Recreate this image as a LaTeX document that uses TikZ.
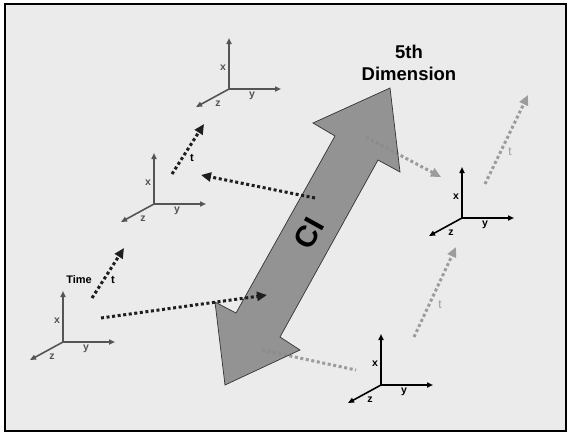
\documentclass[tikz,border=0pt]{standalone}
\usepackage{fontspec}
\setmainfont{Liberation Sans}
\usetikzlibrary{arrows.meta}

\definecolor{paper}{HTML}{EBEBEB}
\definecolor{axdark}{HTML}{555555}
\definecolor{dotdark}{HTML}{1E1E1E}
\definecolor{dotlight}{HTML}{9C9C9C}
\definecolor{ciedge}{HTML}{8A8A8A}
\definecolor{cimid}{HTML}{6C6C6C}

\begin{document}
\begin{tikzpicture}[
  x = 1pt, y = -1pt,
  axis/.style     = {line width=1.6pt, -{Triangle[length=6pt,width=5pt]}},
  axlbl/.style    = {font=\bfseries\fontsize{10.5}{10.5}\selectfont, inner sep=0pt},
  dots/.style     = {line width=3pt, dash pattern=on 3pt off 2.6pt},
  dotarrow/.style = {dots, -{Triangle[length=10pt,width=9pt]}},
  tlbl/.style     = {font=\bfseries\fontsize{11}{11}\selectfont, inner sep=0pt},
]
\useasboundingbox (0, 0) rectangle (567, 432);
\draw[fill=paper, line width=1.5pt] (5, 4) rectangle (566, 431);

% --- end points of the dotted moves
\coordinate (g5s) at (366, 137);  \coordinate (g5e) at (441, 177);
\coordinate (g6s) at (485, 184);  \coordinate (g6e) at (528, 95);
\coordinate (g7s) at (414, 337);  \coordinate (g7e) at (456, 247);
\coordinate (g8s) at (262, 350);  \coordinate (g8e) at (356, 370);
\coordinate (t1s) at (92, 298);   \coordinate (t1e) at (124, 248);
\coordinate (t2s) at (172, 174);  \coordinate (t2e) at (204, 124);
\coordinate (d3s) at (101, 318);  \coordinate (d3e) at (267, 295);
\coordinate (d4s) at (315, 198);  \coordinate (d4e) at (201, 175);

% --- light moves, partly behind the big arrow
\draw[dotarrow, dotlight] (g5s) -- (g5e);
\draw[dotarrow, dotlight] (g6s) -- (g6e);
\draw[dotarrow, dotlight] (g7s) -- (g7e);
\draw[dots, dotlight] (g8s) -- (g8e);

% --- the CI double arrow
\path[draw=black!80, line width=0.7pt, fill opacity=0.9,
      left color=ciedge, middle color=cimid, right color=ciedge]
  (390, 88) -- (400, 172) -- (378, 160) -- (280, 337) -- (300, 350)
  -- (225, 385) -- (215, 302) -- (236, 313) -- (335, 136) -- (313, 123)
  -- cycle;
\node[rotate=61, inner sep=0pt, font=\bfseries\fontsize{30}{30}\selectfont] (ci) at (309, 233) {CI};
\node[align=center, font=\bfseries\fontsize{18.5}{22}\selectfont] (dim) at (409, 63) {5th\\Dimension};

% --- dark moves
\draw[dotarrow, dotdark] (t1s) -- (t1e);
\draw[dotarrow, dotdark] (t2s) -- (t2e);
\draw[dotarrow, dotdark] (d3s) -- (d3e);
\draw[dotarrow, dotdark] (d4s) -- (d4e);

% --- x y z frames
\foreach \n/\px/\py/\c in {A/229/89/axdark, B/154/204/axdark, C/63/342/axdark,
                          D/462/218/black, E/381/385/black} {
  \begin{scope}[shift={(\px, \py)}]
    \coordinate (\n) at (0, 0);
    \coordinate (\n-x) at (0, -51);
    \coordinate (\n-y) at (52, 0);
    \coordinate (\n-z) at (-33, 18);
    \draw[axis, \c] (\n) -- (\n-x);
    \draw[axis, \c] (\n) -- (\n-y);
    \draw[axis, \c] (\n) -- (\n-z);
    \node[axlbl, text=\c] (\n-xl) at (-6, -21) {x};
    \node[axlbl, text=\c] (\n-yl) at (23, 7) {y};
    \node[axlbl, text=\c] (\n-zl) at (-11, 15) {z};
  \end{scope}
}

% --- time labels
\node[tlbl] (time) at (79, 280) {Time};
\node[tlbl] (t1) at (113, 280) {t};
\node[tlbl] (t2) at (192, 158) {t};
\node[tlbl, text=dotlight, font=\fontsize{12}{12}\selectfont] (t6) at (510, 152) {t};
\node[tlbl, text=dotlight, font=\fontsize{12}{12}\selectfont] (t7) at (440, 305) {t};

\end{tikzpicture}
\end{document}
